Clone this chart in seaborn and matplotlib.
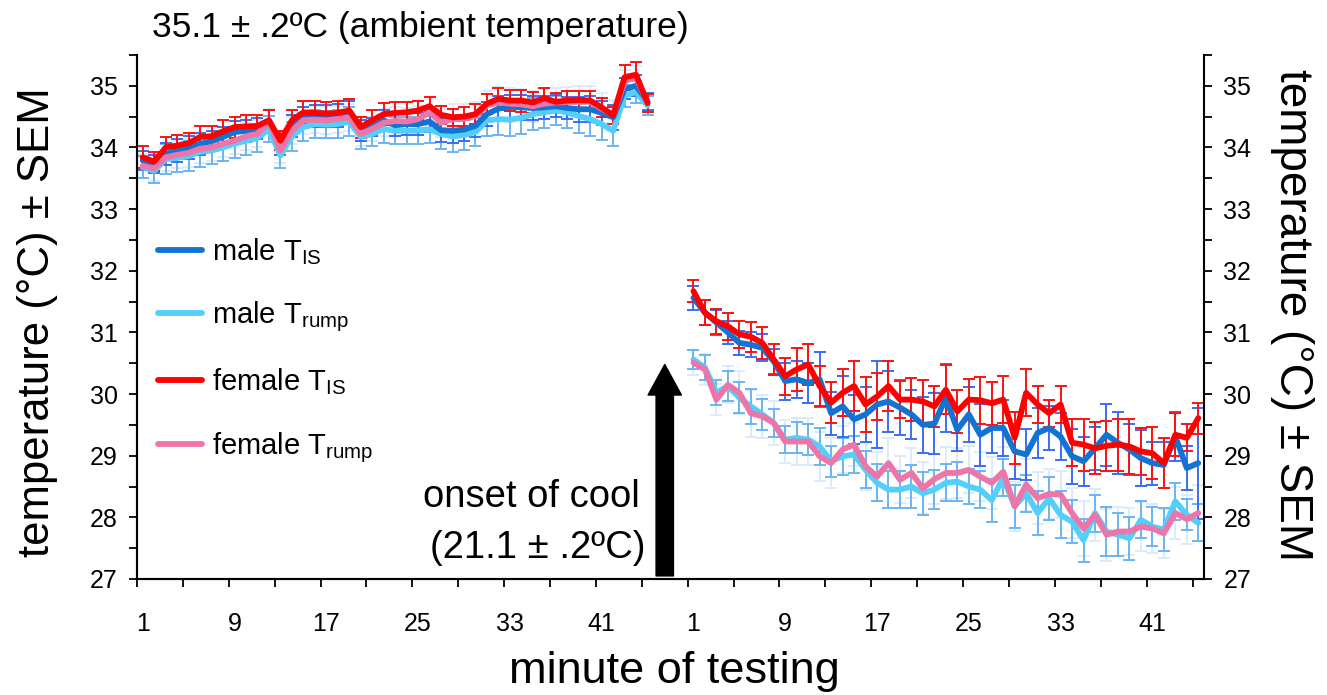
import numpy as np
import pandas as pd
import matplotlib
matplotlib.use('Agg')
import matplotlib.pyplot as plt
import seaborn as sns
from matplotlib.lines import Line2D
from matplotlib.ticker import MultipleLocator

# minutes 1..45 in each phase: ambient (warm) then onset of cool
minutes = list(range(1, 46))

# ---- ambient phase means (°C) ----
male_is_warm = [33.79, 33.73, 33.89, 33.95, 34.00, 34.06, 34.10, 34.17, 34.25, 34.27, 34.30, 34.44, 34.03, 34.35, 34.49,
                34.51, 34.51, 34.52, 34.57, 34.27, 34.33, 34.44, 34.36, 34.38, 34.38, 34.42, 34.28, 34.27, 34.29, 34.35,
                34.54, 34.63, 34.66, 34.65, 34.64, 34.65, 34.67, 34.64, 34.62, 34.62, 34.56, 34.49, 34.95, 35.00, 34.75]
male_rump_warm = [33.68, 33.62, 33.81, 33.83, 33.86, 33.93, 33.95, 34.00, 34.06, 34.11, 34.15, 34.30, 33.87, 34.18, 34.33,
                  34.38, 34.37, 34.38, 34.42, 34.17, 34.22, 34.30, 34.27, 34.27, 34.28, 34.29, 34.22, 34.18, 34.20, 34.25,
                  34.44, 34.46, 34.45, 34.48, 34.54, 34.57, 34.60, 34.57, 34.51, 34.46, 34.38, 34.27, 34.84, 34.90, 34.68]
female_is_warm = [33.84, 33.77, 34.00, 34.03, 34.07, 34.17, 34.18, 34.26, 34.33, 34.34, 34.35, 34.44, 34.11, 34.44, 34.57,
                  34.56, 34.55, 34.56, 34.60, 34.33, 34.44, 34.54, 34.56, 34.57, 34.60, 34.67, 34.53, 34.49, 34.50, 34.54,
                  34.71, 34.79, 34.76, 34.76, 34.73, 34.80, 34.74, 34.76, 34.77, 34.76, 34.65, 34.52, 35.14, 35.18, 34.72]
female_rump_warm = [33.70, 33.66, 33.84, 33.88, 33.91, 33.98, 34.00, 34.06, 34.11, 34.18, 34.22, 34.42, 33.95, 34.27, 34.44,
                    34.45, 34.44, 34.46, 34.49, 34.22, 34.30, 34.40, 34.43, 34.42, 34.46, 34.57, 34.40, 34.46, 34.46, 34.51,
                    34.68, 34.73, 34.71, 34.70, 34.67, 34.71, 34.73, 34.74, 34.74, 34.74, 34.63, 34.53, 35.07, 35.14, 34.72]

# ---- cool phase means (°C) ----
male_is_cool = [31.56, 31.32, 31.16, 31.00, 30.83, 30.80, 30.75, 30.53, 30.21, 30.24, 30.18, 30.24, 29.69, 29.80, 29.59,
                29.67, 29.83, 29.88, 29.78, 29.67, 29.50, 29.52, 29.94, 29.42, 29.67, 29.34, 29.45, 29.45, 29.07, 29.02,
                29.37, 29.45, 29.31, 28.99, 28.91, 29.12, 29.34, 29.21, 29.10, 28.96, 28.88, 28.85, 29.31, 28.80, 28.88]
male_rump_cool = [30.56, 30.43, 30.02, 30.13, 29.94, 29.80, 29.67, 29.53, 29.26, 29.29, 29.26, 29.15, 28.91, 28.99, 29.02,
                  28.77, 28.56, 28.45, 28.45, 28.50, 28.39, 28.45, 28.56, 28.58, 28.50, 28.45, 28.28, 28.64, 28.18, 28.39,
                  28.07, 28.31, 28.04, 27.93, 27.63, 28.07, 27.77, 27.72, 27.66, 27.96, 27.85, 27.80, 28.26, 28.04, 27.91]
female_is_cool = [31.67, 31.32, 31.18, 31.10, 30.97, 30.93, 30.83, 30.56, 30.29, 30.40, 30.48, 30.13, 29.86, 30.02, 30.13,
                  29.83, 29.96, 30.13, 29.91, 29.91, 29.88, 29.80, 30.07, 29.72, 29.91, 29.90, 29.85, 29.91, 29.29, 30.02,
                  29.83, 29.69, 29.83, 29.21, 29.18, 29.12, 29.16, 29.18, 29.15, 29.07, 29.04, 28.88, 29.34, 29.29, 29.61]
female_rump_cool = [30.51, 30.40, 29.91, 30.15, 30.02, 29.69, 29.64, 29.53, 29.23, 29.23, 29.23, 28.99, 28.88, 29.10, 29.18,
                    28.83, 28.66, 28.88, 28.61, 28.72, 28.47, 28.62, 28.72, 28.72, 28.77, 28.66, 28.56, 28.74, 28.18, 28.53,
                    28.31, 28.38, 28.37, 28.07, 27.82, 28.04, 27.72, 27.77, 27.77, 27.85, 27.82, 27.74, 28.07, 27.97, 28.07]

# ---- SEM ----
sem_male_is_warm = [0.16, 0.14, 0.18, 0.19, 0.18, 0.18, 0.16, 0.17, 0.18, 0.18, 0.17, 0.16, 0.15, 0.18, 0.17,
                    0.18, 0.18, 0.19, 0.18, 0.17, 0.15, 0.17, 0.18, 0.18, 0.18, 0.17, 0.19, 0.20, 0.19, 0.18,
                    0.19, 0.20, 0.19, 0.20, 0.20, 0.19, 0.18, 0.18, 0.20, 0.21, 0.20, 0.20, 0.17, 0.17, 0.14]
sem_male_rump_warm = [0.18, 0.20, 0.24, 0.22, 0.24, 0.24, 0.22, 0.22, 0.23, 0.23, 0.22, 0.21, 0.20, 0.24, 0.23,
                      0.22, 0.22, 0.23, 0.23, 0.20, 0.20, 0.22, 0.22, 0.22, 0.22, 0.22, 0.24, 0.25, 0.24, 0.22,
                      0.25, 0.26, 0.26, 0.26, 0.26, 0.25, 0.24, 0.25, 0.27, 0.28, 0.26, 0.25, 0.18, 0.18, 0.15]
sem_female_is_warm = [0.18, 0.15, 0.17, 0.17, 0.17, 0.18, 0.17, 0.18, 0.17, 0.19, 0.18, 0.17, 0.15, 0.17, 0.18,
                      0.19, 0.19, 0.20, 0.19, 0.17, 0.16, 0.18, 0.17, 0.16, 0.16, 0.15, 0.15, 0.14, 0.15, 0.16,
                      0.16, 0.18, 0.17, 0.18, 0.17, 0.17, 0.15, 0.15, 0.15, 0.16, 0.15, 0.14, 0.20, 0.20, 0.15]
sem_female_rump_warm = [0.20, 0.20, 0.22, 0.22, 0.22, 0.23, 0.22, 0.22, 0.22, 0.22, 0.22, 0.20, 0.20, 0.22, 0.22,
                        0.22, 0.22, 0.22, 0.22, 0.20, 0.20, 0.22, 0.22, 0.22, 0.22, 0.22, 0.23, 0.24, 0.24, 0.22,
                        0.24, 0.25, 0.25, 0.25, 0.25, 0.24, 0.24, 0.24, 0.25, 0.26, 0.25, 0.24, 0.18, 0.18, 0.15]
sem_male_is_cool = [0.20, 0.20, 0.20, 0.18, 0.20, 0.20, 0.22, 0.20, 0.30, 0.30, 0.32, 0.45, 0.35, 0.50, 0.40,
                    0.45, 0.70, 0.50, 0.45, 0.40, 0.45, 0.50, 0.55, 0.35, 0.45, 0.50, 0.40, 0.45, 0.45, 0.42,
                    0.40, 0.35, 0.38, 0.45, 0.40, 0.35, 0.50, 0.50, 0.42, 0.45, 0.35, 0.38, 0.40, 0.35, 0.90]
sem_male_rump_cool = [0.15, 0.20, 0.20, 0.25, 0.25, 0.28, 0.25, 0.22, 0.22, 0.25, 0.25, 0.30, 0.25, 0.30, 0.30,
                      0.30, 0.30, 0.30, 0.30, 0.35, 0.35, 0.32, 0.30, 0.32, 0.28, 0.30, 0.35, 0.30, 0.35, 0.30,
                      0.35, 0.35, 0.38, 0.35, 0.35, 0.30, 0.40, 0.35, 0.35, 0.30, 0.32, 0.35, 0.30, 0.25, 0.30]
sem_female_is_cool = [0.18, 0.20, 0.20, 0.22, 0.22, 0.24, 0.26, 0.25, 0.30, 0.35, 0.33, 0.32, 0.33, 0.38, 0.40,
                      0.45, 0.38, 0.40, 0.30, 0.35, 0.35, 0.33, 0.40, 0.35, 0.33, 0.38, 0.35, 0.38, 0.42, 0.38,
                      0.30, 0.22, 0.30, 0.38, 0.42, 0.42, 0.40, 0.42, 0.45, 0.38, 0.42, 0.40, 0.35, 0.22, 0.25]
sem_female_rump_cool = [0.20, 0.25, 0.25, 0.30, 0.35, 0.38, 0.35, 0.35, 0.35, 0.38, 0.38, 0.40, 0.40, 0.38, 0.35,
                        0.38, 0.40, 0.40, 0.38, 0.40, 0.42, 0.40, 0.42, 0.40, 0.38, 0.40, 0.42, 0.40, 0.40, 0.42,
                        0.42, 0.40, 0.38, 0.40, 0.45, 0.42, 0.42, 0.40, 0.38, 0.40, 0.40, 0.40, 0.42, 0.40, 0.45]

series = {
    'male rump': (male_rump_warm, male_rump_cool, sem_male_rump_warm, sem_male_rump_cool),
    'male IS': (male_is_warm, male_is_cool, sem_male_is_warm, sem_male_is_cool),
    'female rump': (female_rump_warm, female_rump_cool, sem_female_rump_warm, sem_female_rump_cool),
    'female IS': (female_is_warm, female_is_cool, sem_female_is_warm, sem_female_is_cool),
}
line_colors = {'male IS': '#1273D3', 'male rump': '#52CFFA', 'female IS': '#FF0000', 'female rump': '#EE75A8'}
bar_colors = {'male IS': '#3A6CF5', 'male rump': '#6AB4F5', 'female IS': '#FF1010', 'female rump': '#DCEBFB'}
legend_labels = {'male IS': 'male T$_{IS}$', 'male rump': 'male T$_{rump}$',
                 'female IS': 'female T$_{IS}$', 'female rump': 'female T$_{rump}$'}

offset_cool = 48  # 45 minutes + 3 empty slots before the cool phase

rows = []
for name, (warm, cool, sw, sc) in series.items():
    for m, t, s in zip(minutes, warm, sw):
        rows.append((name, 'ambient', m, t, s))
    for m, t, s in zip(minutes, cool, sc):
        rows.append((name, 'cool', m + offset_cool, t, s))
df = pd.DataFrame(rows, columns=['series', 'phase', 'pos', 'temp', 'err'])

sns.set_style('ticks')
plt.rcParams['font.family'] = ['Liberation Sans', 'DejaVu Sans']
plt.rcParams['mathtext.default'] = 'regular'
plt.rcParams['text.color'] = 'black'
plt.rcParams['axes.labelcolor'] = 'black'
plt.rcParams['xtick.color'] = 'black'
plt.rcParams['ytick.color'] = 'black'

fig = plt.figure(figsize=(13.27, 6.95), dpi=100)
ax = fig.add_axes([137 / 1327, 116 / 695, 1067 / 1327, 524 / 695])

# error bars behind the lines
for name in ['female rump', 'male rump', 'male IS', 'female IS']:
    for phase in ['ambient', 'cool']:
        d = df[(df['series'] == name) & (df['phase'] == phase)]
        ax.errorbar(d['pos'], d['temp'], yerr=d['err'], fmt='none', ecolor=bar_colors[name],
                    elinewidth=1.4, capsize=4, capthick=1.4, zorder=2)

sns.lineplot(data=df, x='pos', y='temp', hue='series', units='phase', estimator=None,
             hue_order=['male rump', 'male IS', 'female rump', 'female IS'],
             palette=line_colors, lw=4.2, legend=False, ax=ax, zorder=3)

ax.set_xlim(0.5, 93.5)
ax.set_ylim(27, 35.5)
ax.set_xlabel('')
ax.set_ylabel('')

label_pos = [1, 9, 17, 25, 33, 41] + [p + offset_cool for p in [1, 9, 17, 25, 33, 41]]
label_txt = ['1', '9', '17', '25', '33', '41'] * 2
ax.set_xticks(np.arange(0.5, 93, 4))
ax.set_xticklabels([])
ax.set_xticks(label_pos, minor=True)
ax.set_xticklabels(label_txt, minor=True, fontsize=18)
ax.tick_params(axis='x', which='major', direction='out', length=6, width=1.3, color='black')
ax.tick_params(axis='x', which='minor', length=0, pad=24, labelcolor='black')

ax2 = ax.twinx()
ax2.set_ylim(27, 35.5)
for a in (ax, ax2):
    a.yaxis.set_major_locator(MultipleLocator(1))
    a.yaxis.set_minor_locator(MultipleLocator(0.5))
    a.tick_params(axis='y', which='both', direction='out', length=6, width=1.3, color='black',
                  labelsize=18, pad=8, labelcolor='black')
    for sp in a.spines.values():
        sp.set_linewidth(1.5)
        sp.set_color('black')
    a.spines['top'].set_visible(False)
ax.spines['right'].set_visible(False)

handles = [Line2D([0], [0], color=line_colors[k], lw=4.2) for k in ['male IS', 'male rump', 'female IS', 'female rump']]
ax.legend(handles, [legend_labels[k] for k in ['male IS', 'male rump', 'female IS', 'female rump']],
          loc='upper left', bbox_to_anchor=(0.02, 0.655), frameon=False, fontsize=21,
          handlelength=1.5, handletextpad=0.35, labelspacing=1.12, borderaxespad=0, borderpad=0,
          labelcolor='black')

# onset of cool arrow and text
ax.annotate('', xy=(46.5, 30.48), xytext=(46.5, 27.05),
            arrowprops=dict(arrowstyle='simple,head_width=2.4,head_length=2.2,tail_width=1.25',
                            color='black', mutation_scale=10, shrinkA=0, shrinkB=0), zorder=4)
ax.text(44.35, 28.33, 'onset of cool', ha='right', va='center', fontsize=27.5)
ax.text(44.8, 27.50, '(21.1 ± .2ºC)', ha='right', va='center', fontsize=27.5)

fig.text(152 / 1327, 1 - 28 / 695, '35.1 ± .2ºC (ambient temperature)', ha='left', va='center', fontsize=25.5)

fig.text(38 / 1327, 1 - 322 / 695, 'temperature (°C) ± SEM', rotation=90, ha='center', va='center', fontsize=31.5)
fig.text(1292 / 1327, 1 - 315 / 695, 'temperature (°C) ± SEM', rotation=270, ha='center', va='center', fontsize=33)
fig.text(674 / 1327, 1 - 672 / 695, 'minute of testing', ha='center', va='center', fontsize=32.5)

fig.savefig('out.png', dpi=100)
